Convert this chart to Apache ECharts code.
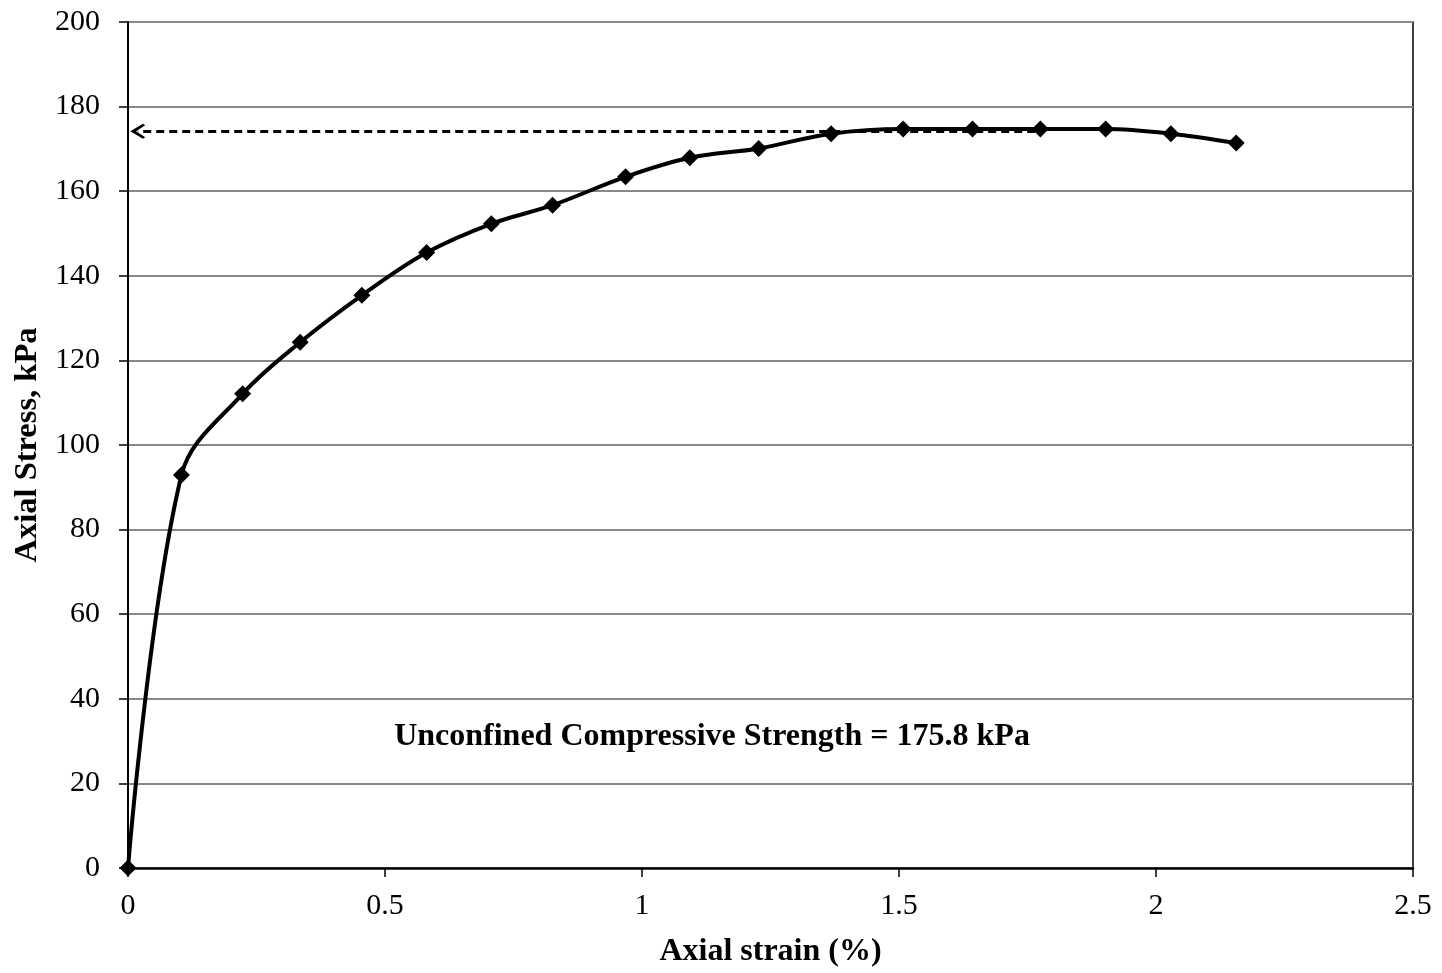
<!DOCTYPE html>
<html>
<head>
<meta charset="utf-8">
<title>Axial Stress vs Axial Strain</title>
<script src="https://cdn.jsdelivr.net/npm/echarts@6/dist/echarts.min.js"></script>
<style>
  html, body { margin: 0; padding: 0; background: #fff; }
  #chart { width: 1442px; height: 973px; }
</style>
</head>
<body>
<div id="chart"></div>
<script>
// Unconfined compression test: axial strain (%) vs axial stress (kPa)
const strainPct = [0, 0.104, 0.223, 0.335, 0.455, 0.581, 0.707, 0.826, 0.968, 1.093,
                   1.227, 1.368, 1.508, 1.643, 1.775, 1.902, 2.029, 2.156];
const stressKPa = [0, 92.9, 112.1, 124.3, 135.4, 145.5, 152.3, 156.7, 163.4, 167.9,
                   170.1, 173.6, 174.7, 174.7, 174.7, 174.7, 173.6, 171.4];

// Peak reference line (dashed arrow back to the stress axis)
const peakLineStress = 174.2;
const peakLineFrom = 1.765;
const peakLineTo = 0.019;

const xTicks = [0, 0.5, 1, 1.5, 2, 2.5];
const yTicks = [0, 20, 40, 60, 80, 100, 120, 140, 160, 180, 200];

const annotation = 'Unconfined Compressive Strength = 175.8 kPa';
const xTitle = 'Axial strain (%)';
const yTitle = 'Axial Stress, kPa';

const serif = "'Liberation Serif', 'Times New Roman', serif";

const chart = echarts.init(document.getElementById('chart'), null, { renderer: 'canvas' });

const points = strainPct.map((x, i) => [x, stressKPa[i]]);

// notched arrow head, pointing up (rotated along the line by ECharts)
const arrowHead = 'path://M0,0 L10,11 L8,13 L0,5 L-8,13 L-10,11 Z';

chart.setOption({
  animation: false,
  backgroundColor: '#ffffff',
  grid: {
    left: 128, right: 29, top: 22, bottom: 102,
    show: true, borderColor: '#000', borderWidth: 1.5, backgroundColor: 'transparent'
  },
  xAxis: {
    type: 'value',
    min: xTicks[0], max: xTicks[xTicks.length - 1], interval: 0.5,
    name: xTitle, nameLocation: 'middle', nameGap: 68,
    nameTextStyle: { fontFamily: serif, fontWeight: 'bold', fontSize: 32, color: '#000' },
    axisLine: { show: true, onZero: false, lineStyle: { color: '#000', width: 2.5 } },
    axisTick: { show: true, inside: false, length: 9, lineStyle: { color: '#000', width: 1.5 } },
    axisLabel: { fontFamily: serif, fontSize: 30, color: '#000', margin: 23 },
    splitLine: { show: false }
  },
  yAxis: {
    type: 'value',
    min: yTicks[0], max: yTicks[yTicks.length - 1], interval: 20,
    name: yTitle, nameLocation: 'middle', nameGap: 74, nameRotate: 90,
    nameTextStyle: { fontFamily: serif, fontWeight: 'bold', fontSize: 32.5, color: '#000' },
    axisLine: { show: true, onZero: false, lineStyle: { color: '#000', width: 2 } },
    axisTick: { show: true, inside: false, length: 9, lineStyle: { color: '#000', width: 1.5 } },
    axisLabel: { fontFamily: serif, fontSize: 30, color: '#000', margin: 28 },
    splitLine: { show: true, lineStyle: { color: '#888888', width: 1.8 } }
  },
  graphic: [{
    type: 'text',
    x: 712, y: 737,
    style: {
      text: annotation,
      align: 'center', verticalAlign: 'middle',
      font: "bold 32px 'Liberation Serif', 'Times New Roman', serif",
      fill: '#000'
    }
  }],
  series: [{
    type: 'line',
    data: points,
    smooth: 0.35,
    symbol: 'diamond',
    symbolSize: 17,
    itemStyle: { color: '#000' },
    lineStyle: { color: '#000', width: 4 },
    z: 3,
    markLine: {
      silent: true,
      symbol: ['none', arrowHead],
      symbolSize: [15, 15],
      label: { show: false },
      lineStyle: { color: '#000', width: 2.8, type: [8, 5] },
      data: [[
        { coord: [peakLineFrom, peakLineStress] },
        { coord: [peakLineTo, peakLineStress] }
      ]],
      z: 2
    }
  }]
});
</script>
</body>
</html>
